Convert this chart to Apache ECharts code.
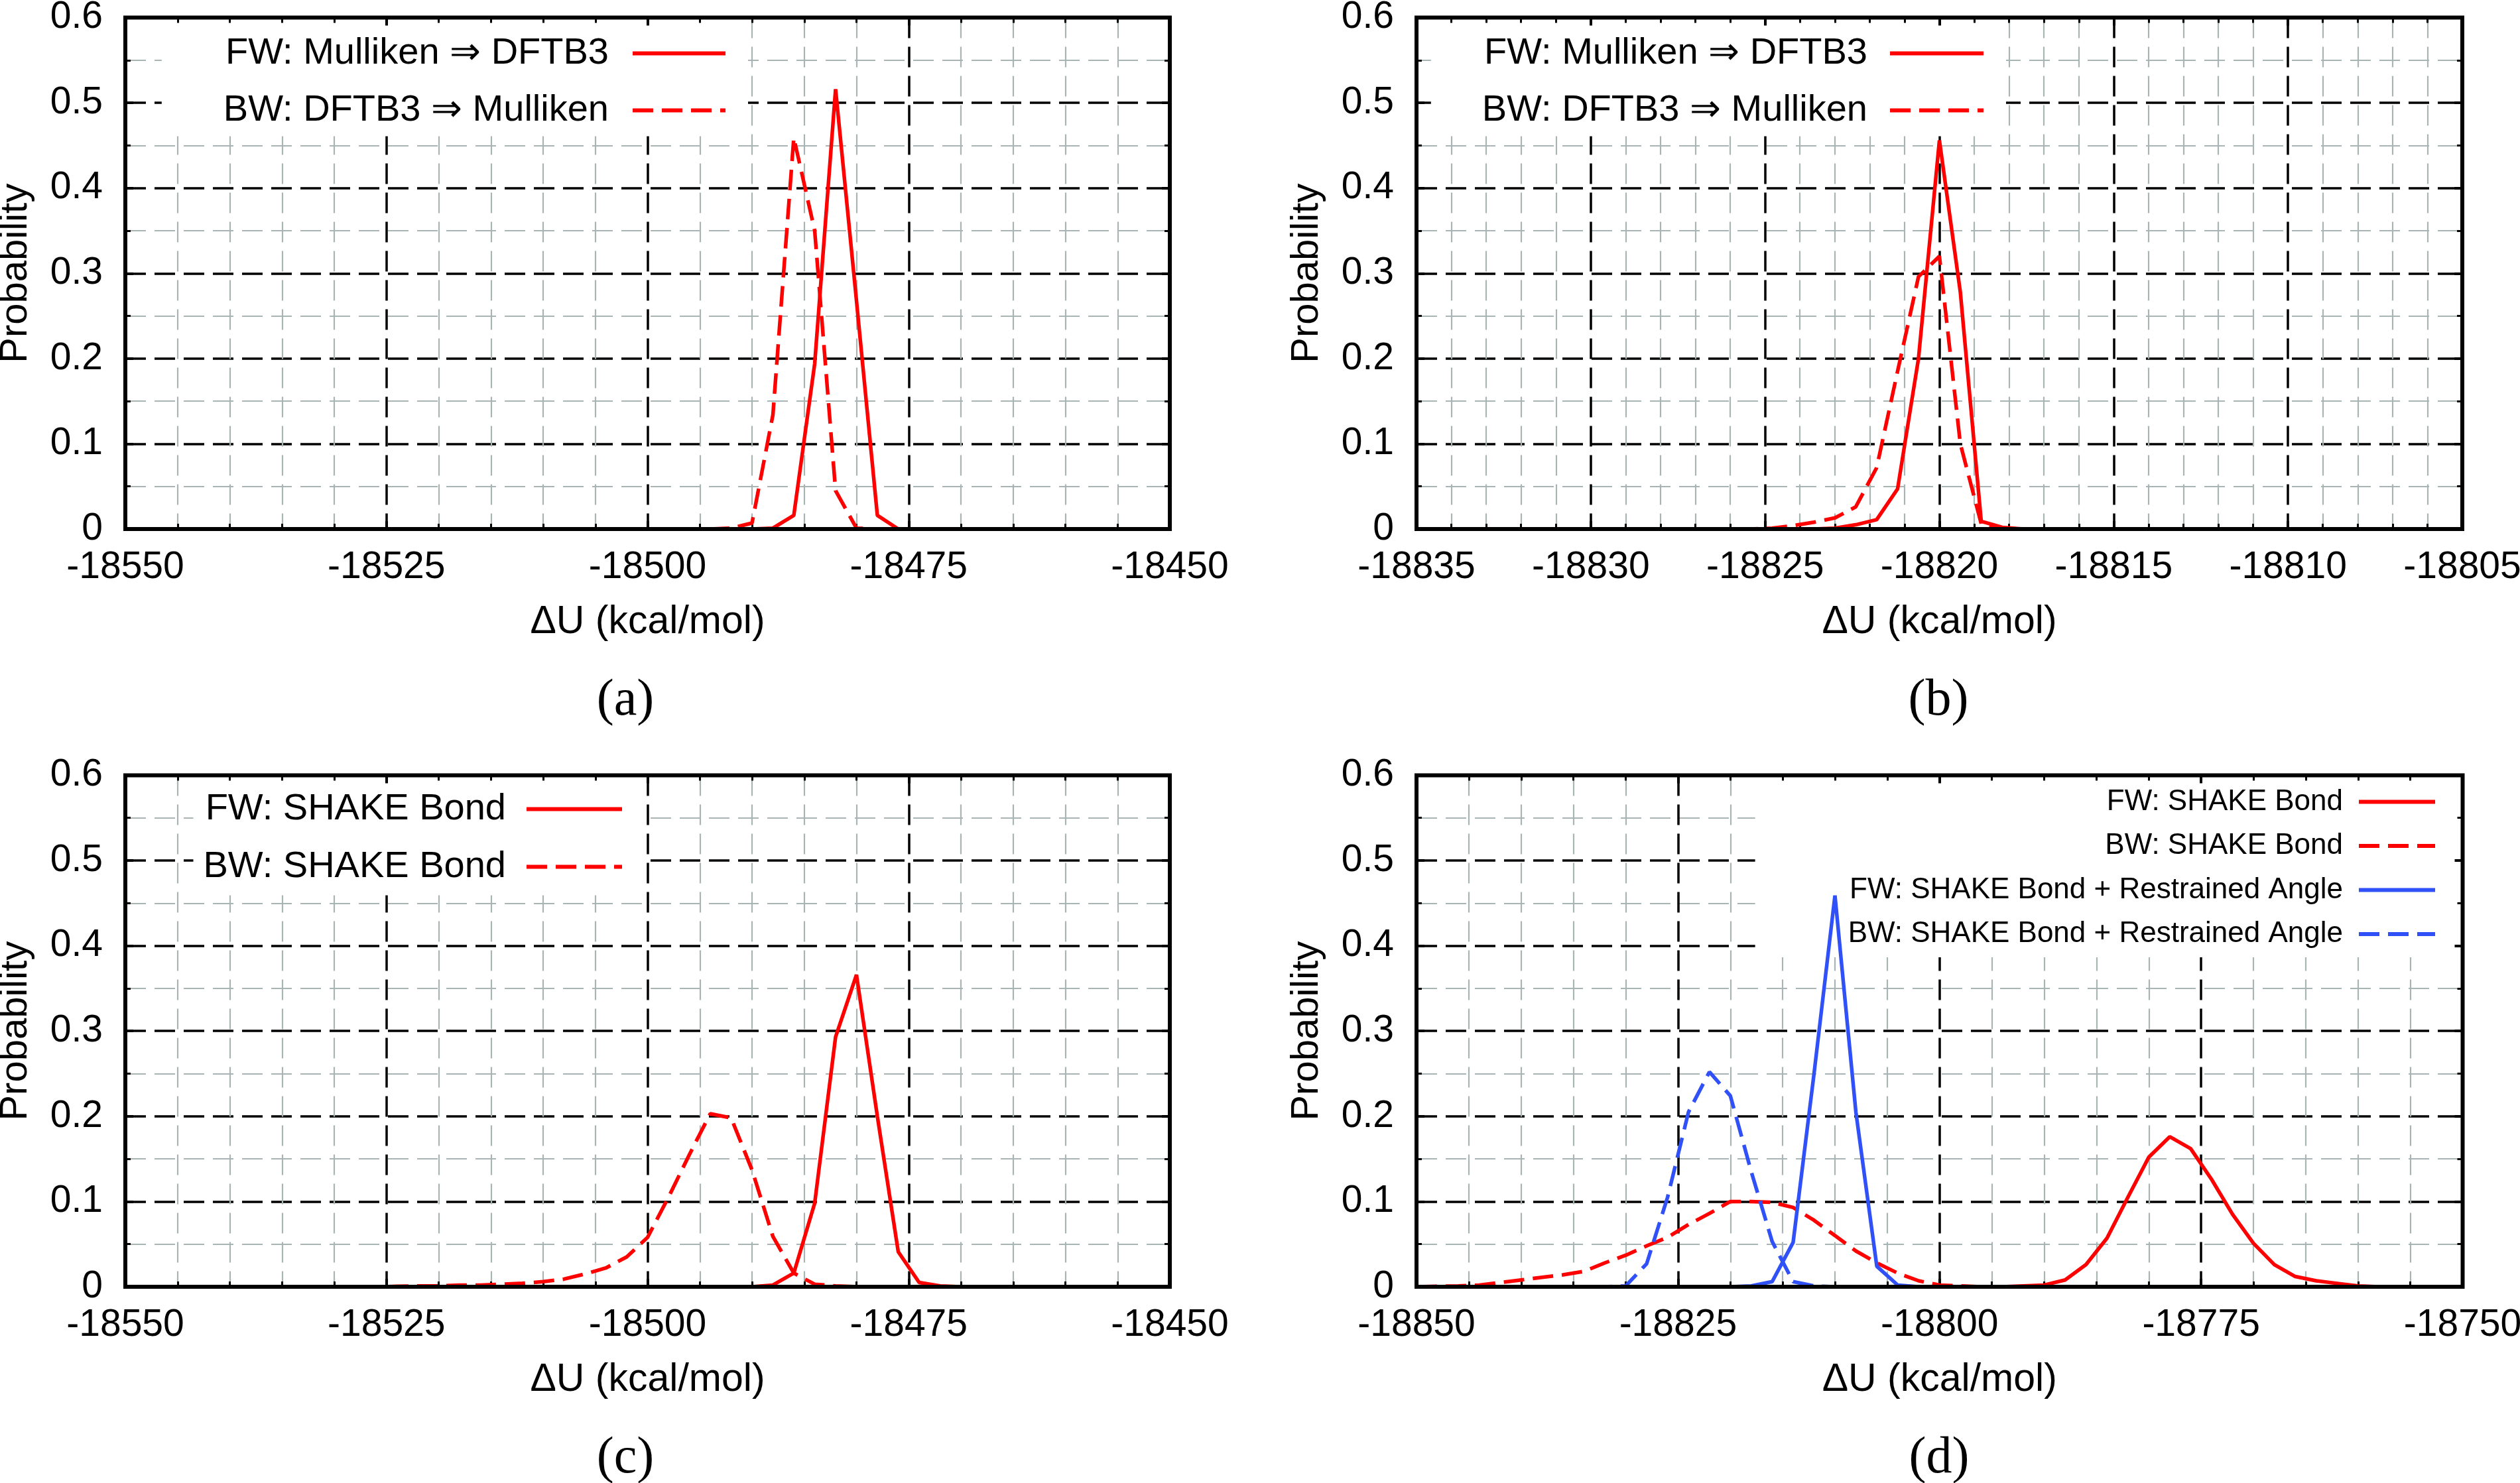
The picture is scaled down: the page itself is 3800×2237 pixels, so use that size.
<!DOCTYPE html>
<html>
<head>
<meta charset="utf-8">
<script src="https://cdn.jsdelivr.net/npm/echarts@6/dist/echarts.min.js"></script>
<style>html,body{margin:0;padding:0;background:#fff}#c{width:3800px;height:2237px}</style>
</head>
<body>
<div id="c"></div>
<script>
// ---------------- DATA ----------------
// Panel (a)
const aXRange = [-18550, -18450];
const aFwX = [-18550, -18490, -18488, -18486, -18484, -18482, -18480, -18478, -18476, -18450];
const aFwY = [0, 0, 0.001, 0.016, 0.194, 0.516, 0.268, 0.016, 0, 0];
const aBwX = [-18550, -18494, -18492, -18490, -18488, -18486, -18484, -18482, -18480, -18478, -18450];
const aBwY = [0, 0, 0.001, 0.007, 0.134, 0.459, 0.350, 0.045, 0.001, 0, 0];
// Panel (b)
const bXRange = [-18835, -18805];
const bFwX = [-18835, -18823.6, -18823.0, -18822.4, -18821.8, -18821.2, -18820.6, -18820.0, -18819.4, -18818.8, -18818.2, -18817.6, -18805];
const bFwY = [0, 0, 0.001, 0.005, 0.011, 0.047, 0.200, 0.456, 0.278, 0.009, 0.002, 0, 0];
const bBwX = [-18835, -18825.4, -18824.8, -18824.2, -18823.6, -18823.0, -18822.4, -18821.8, -18821.2, -18820.6, -18820.0, -18819.4, -18818.8, -18818.2, -18805];
const bBwY = [0, 0, 0.001, 0.004, 0.008, 0.013, 0.026, 0.072, 0.185, 0.296, 0.320, 0.100, 0.006, 0, 0];
// Panel (c)
const cXRange = [-18550, -18450];
const cFwX = [-18550, -18490, -18488, -18486, -18484, -18482, -18480, -18478, -18476, -18474, -18472, -18470, -18450];
const cFwY = [0, 0, 0.002, 0.016, 0.098, 0.293, 0.366, 0.200, 0.041, 0.005, 0.001, 0, 0];
const cBwX = [-18550, -18526, -18524, -18522, -18520, -18518, -18516, -18514, -18512, -18510, -18508, -18506, -18504, -18502, -18500, -18498, -18496, -18494, -18492, -18490, -18488, -18486, -18484, -18482, -18480, -18450];
const cBwY = [0, 0, 0.0005, 0.001, 0.001, 0.002, 0.002, 0.003, 0.004, 0.006, 0.009, 0.015, 0.022, 0.035, 0.058, 0.105, 0.155, 0.203, 0.198, 0.137, 0.059, 0.016, 0.003, 0.001, 0, 0];
// Panel (d)
const dXRange = [-18850, -18750];
const dFwX = [-18850, -18794, -18792, -18790, -18788, -18786, -18784, -18782, -18780, -18778, -18776, -18774, -18772, -18770, -18768, -18766, -18764, -18762, -18760, -18758, -18750];
const dFwY = [0, 0, 0.001, 0.002, 0.008, 0.026, 0.057, 0.105, 0.152, 0.176, 0.162, 0.126, 0.085, 0.051, 0.026, 0.012, 0.007, 0.004, 0.001, 0, 0];
const dBwX = [-18850, -18846, -18844, -18842, -18840, -18838, -18836, -18834, -18832, -18830, -18828, -18826, -18824, -18822, -18820, -18818, -18816, -18814, -18812, -18810, -18808, -18806, -18804, -18802, -18800, -18798, -18796, -18750];
const dBwY = [0, 0.001, 0.002, 0.005, 0.008, 0.011, 0.014, 0.018, 0.028, 0.037, 0.048, 0.058, 0.073, 0.086, 0.100, 0.100, 0.099, 0.093, 0.078, 0.060, 0.042, 0.028, 0.016, 0.007, 0.002, 0.001, 0, 0];
const dFwRaX = [-18850, -18820, -18818, -18816, -18814, -18812, -18810, -18808, -18806, -18804, -18802, -18750];
const dFwRaY = [0, 0, 0.001, 0.006, 0.052, 0.250, 0.459, 0.205, 0.024, 0.002, 0, 0];
const dBwRaX = [-18850, -18832, -18830, -18828, -18826, -18824, -18822, -18820, -18818, -18816, -18814, -18812, -18810, -18750];
const dBwRaY = [0, 0, 0.001, 0.027, 0.105, 0.205, 0.252, 0.224, 0.135, 0.053, 0.006, 0.001, 0, 0];

const yRange = [0, 0.6];
const legendAB = ['FW: Mulliken \u21D2 DFTB3', 'BW: DFTB3 \u21D2 Mulliken'];
const legendC = ['FW: SHAKE Bond', 'BW: SHAKE Bond'];
const legendD = ['FW: SHAKE Bond', 'BW: SHAKE Bond', 'FW: SHAKE Bond + Restrained Angle', 'BW: SHAKE Bond + Restrained Angle'];
const panelLabels = ['(a)', '(b)', '(c)', '(d)'];
const xName = '\u0394U (kcal/mol)';
const yName = 'Probability';

// ---------------- STYLE / LAYOUT ----------------
const RED = '#ff0000', BLUE = '#3050f8';
const DASH = [31, 13];
const SANS = 'Liberation Sans';
const xFmt = v => String(Math.round(v));
const yFmt = v => String(Math.round(v * 10) / 10);

const panels = [
  { grid: { left: 189, top: 26.5, width: 1575, height: 771.5 }, xr: aXRange, step: 25,
    label: { x: 943, y: 1058 },
    legend: { names: legendAB, right: 2672, top: 26.5, padding: [24, 31, 9, 93], itemWidth: 140, gap: 31, fontSize: 56, lineHeight: 60, itemGap: 26 },
    series: [[legendAB[0], aFwX, aFwY, RED, 'solid'], [legendAB[1], aBwX, aBwY, RED, DASH]] },
  { grid: { left: 2136, top: 26.5, width: 1577, height: 771.5 }, xr: bXRange, step: 5,
    label: { x: 2923, y: 1058 },
    legend: { names: legendAB, right: 775, top: 26.5, padding: [24, 31, 9, 77], itemWidth: 141, gap: 29, fontSize: 56, lineHeight: 60, itemGap: 26 },
    series: [[legendAB[0], bFwX, bFwY, RED, 'solid'], [legendAB[1], bBwX, bBwY, RED, DASH]] },
  { grid: { left: 189, top: 1169.4, width: 1575, height: 771.6 }, xr: cXRange, step: 25,
    label: { x: 943, y: 2201 },
    legend: { names: legendC, right: 2828, top: 1169.4, padding: [21, 31, 13, 15], itemWidth: 144, gap: 26, fontSize: 56, lineHeight: 60, itemGap: 27 },
    series: [[legendC[0], cFwX, cFwY, RED, 'solid'], [legendC[1], cBwX, cBwY, RED, DASH]] },
  { grid: { left: 2136, top: 1169.4, width: 1577.5, height: 771.6 }, xr: dXRange, step: 25,
    label: { x: 2924, y: 2201 },
    legend: { names: legendD, right: 88, top: 1169.4, padding: [16, 37, 11, 140], itemWidth: 115, gap: 19, fontSize: 44, lineHeight: 48, itemGap: 18.5 },
    series: [[legendD[0], dFwX, dFwY, RED, 'solid'], [legendD[1], dBwX, dBwY, RED, DASH],
             [legendD[2], dFwRaX, dFwRaY, BLUE, 'solid'], [legendD[3], dBwRaX, dBwRaY, BLUE, DASH]] }
];

const option = { animation: false, backgroundColor: '#ffffff', grid: [], xAxis: [], yAxis: [], legend: [], series: [], graphic: [] };

const tickStyle = { show: true, inside: true, length: 12, lineStyle: { color: '#000', width: 4 } };
const minorTickStyle = n => ({ show: true, splitNumber: n, length: 8, lineStyle: { color: '#000', width: 3 } });
const majorGrid = { show: true, lineStyle: { color: '#000', width: 3.5, type: DASH } };
const minorGrid = { show: true, lineStyle: { color: '#a9b4b4', width: 2.2, type: DASH } };

panels.forEach((p, i) => {
  option.grid.push(Object.assign({ show: true, z: 10, backgroundColor: 'rgba(0,0,0,0)', borderColor: '#000', borderWidth: 6, outerBoundsMode: 'none', containLabel: false }, p.grid));
  // main x axis
  option.xAxis.push({
    type: 'value', gridIndex: i, position: 'bottom', min: p.xr[0], max: p.xr[1], interval: p.step, z: 0,
    name: xName, nameLocation: 'middle', nameGap: 111, nameMoveOverlap: false,
    nameTextStyle: { fontFamily: SANS, fontSize: 59, color: '#000' },
    axisLine: { show: false, onZero: false },
    axisTick: tickStyle, minorTick: minorTickStyle(5),
    axisLabel: { show: true, margin: 30, fontFamily: SANS, fontSize: 57, color: '#000', formatter: xFmt, showMinLabel: true, showMaxLabel: true, hideOverlap: false },
    splitLine: majorGrid, minorSplitLine: minorGrid
  });
  // top tick axis
  option.xAxis.push({
    type: 'value', gridIndex: i, position: 'top', min: p.xr[0], max: p.xr[1], interval: p.step, z: 10,
    axisLine: { show: false, onZero: false }, axisLabel: { show: false }, splitLine: { show: false },
    axisTick: tickStyle, minorTick: minorTickStyle(5)
  });
  // main y axis
  option.yAxis.push({
    type: 'value', gridIndex: i, position: 'left', min: yRange[0], max: yRange[1], interval: 0.1, z: 0,
    name: yName, nameLocation: 'middle', nameGap: 136, nameMoveOverlap: false,
    nameTextStyle: { fontFamily: SANS, fontSize: 58, color: '#000' },
    axisLine: { show: false, onZero: false },
    axisTick: tickStyle, minorTick: minorTickStyle(2),
    axisLabel: { show: true, margin: 34, fontFamily: SANS, fontSize: 57, color: '#000', formatter: yFmt, showMinLabel: true, showMaxLabel: true },
    splitLine: majorGrid, minorSplitLine: minorGrid
  });
  // right tick axis
  option.yAxis.push({
    type: 'value', gridIndex: i, position: 'right', min: yRange[0], max: yRange[1], interval: 0.1, z: 10,
    axisLine: { show: false, onZero: false }, axisLabel: { show: false }, splitLine: { show: false },
    axisTick: tickStyle, minorTick: minorTickStyle(2)
  });
  const L = p.legend;
  option.legend.push({
    data: L.names, orient: 'vertical', align: 'right', right: L.right, top: L.top,
    padding: L.padding, itemWidth: L.itemWidth, itemHeight: 30, itemGap: L.itemGap,
    backgroundColor: '#ffffff', borderWidth: 0, z: 1, selectedMode: false,
    textStyle: { fontFamily: SANS, fontSize: L.fontSize, lineHeight: L.lineHeight, color: '#000', padding: [0, L.gap, 0, 0] },
    lineStyle: { width: 6 },
    itemStyle: { opacity: 0 }
  });
  p.series.forEach(s => {
    option.series.push({
      type: 'line', name: s[0], xAxisIndex: 2 * i, yAxisIndex: 2 * i, z: 2,
      data: s[1].map((x, k) => [x, s[2][k]]),
      symbol: 'none', showSymbol: false, smooth: false,
      lineStyle: { color: s[3], width: 5.5, type: s[4] },
      itemStyle: { color: s[3] },
      emphasis: { disabled: true }
    });
  });
  option.graphic.push({
    type: 'text', x: p.label.x, y: p.label.y, z: 20,
    style: { text: panelLabels[i], fontFamily: 'Liberation Serif', fontSize: 78, fill: '#000', align: 'center', verticalAlign: 'middle' }
  });
});

const chart = echarts.init(document.getElementById('c'), null, { renderer: 'canvas', width: 3800, height: 2237 });
chart.setOption(option);
</script>
</body>
</html>
